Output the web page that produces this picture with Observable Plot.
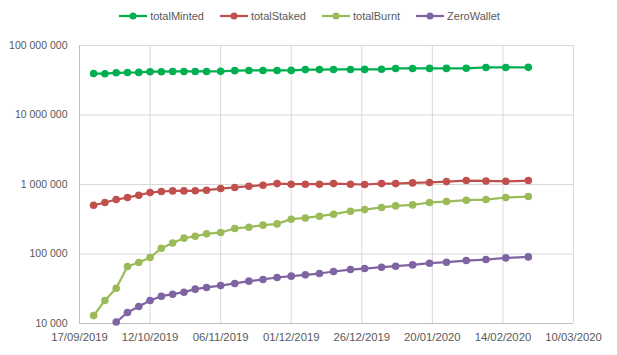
<!DOCTYPE html>
<html>
<head>
<meta charset="utf-8">
<script src="https://cdn.jsdelivr.net/npm/d3@7"></script>
<script src="https://cdn.jsdelivr.net/npm/@observablehq/plot@0.6"></script>
<style>
  body { margin: 0; background: #fff; font-family: "Liberation Sans", Arial, sans-serif; }
  #wrap { width: 617px; height: 355px; position: relative; }
  #legend { height: 30px; display: flex; justify-content: center; align-items: center; gap: 16px; font-size: 11px; color: #595959; padding-left: 2px; box-sizing: border-box; padding-top: 2px; }
  .item { display: flex; align-items: center; gap: 3px; }
  svg.sw { display: block; }
</style>
</head>
<body>
<div id="wrap">
  <div id="legend"></div>
  <div id="chart"></div>
</div>
<script>
const dates = ["2019-09-22","2019-09-26","2019-09-30","2019-10-04","2019-10-08","2019-10-12","2019-10-16","2019-10-20","2019-10-24","2019-10-28","2019-11-01","2019-11-06","2019-11-11","2019-11-16","2019-11-21","2019-11-26","2019-12-01","2019-12-06","2019-12-11","2019-12-16","2019-12-22","2019-12-27","2020-01-02","2020-01-07","2020-01-13","2020-01-19","2020-01-25","2020-02-01","2020-02-08","2020-02-15","2020-02-23"];

const totalMinted = [39.5e6,39.3e6,40.5e6,40.8e6,41e6,42e6,42e6,42.3e6,42.3e6,42.3e6,42.3e6,42.5e6,43.5e6,43.7e6,43.7e6,43.7e6,43.8e6,45e6,45e6,45.2e6,45.2e6,45.3e6,45.5e6,46.7e6,46.7e6,46.8e6,46.8e6,47e6,48.3e6,48.3e6,48.5e6];
const totalStaked = [503e3,551e3,608e3,650e3,702e3,767e3,793e3,809e3,809e3,812e3,828e3,875e3,906e3,946e3,977e3,1.03e6,1.01e6,1.01e6,1.01e6,1.03e6,1.01e6,1.0e6,1.03e6,1.03e6,1.055e6,1.07e6,1.10e6,1.14e6,1.125e6,1.11e6,1.14e6];
const totalBurnt = [13.0e3,21.4e3,32.2e3,66.1e3,75.5e3,89.1e3,121e3,144e3,169e3,180e3,195e3,204e3,233e3,243e3,260e3,271e3,317e3,330e3,350e3,374e3,413e3,436e3,467e3,492e3,509e3,551e3,569e3,594e3,608e3,650e3,671e3];
const zeroWallet = [null,null,10.5e3,14.4e3,17.6e3,21.4e3,24.7e3,26.4e3,28.2e3,31.2e3,33.0e3,35.2e3,37.7e3,40.7e3,43.0e3,45.9e3,48.0e3,50.1e3,52.4e3,56.0e3,59.8e3,61.8e3,64.6e3,66.7e3,69.7e3,73.7e3,76.2e3,80.6e3,83.3e3,87.9e3,90.8e3];

const seriesNames = ["totalMinted","totalStaked","totalBurnt","ZeroWallet"];
const seriesColors = ["#00b050","#c0504d","#9bbb59","#8064a2"];
const seriesValues = [totalMinted,totalStaked,totalBurnt,zeroWallet];

const xTicks = ["2019-09-17","2019-10-12","2019-11-06","2019-12-01","2019-12-26","2020-01-20","2020-02-14","2020-03-10"];
const yTicks = [1e4,1e5,1e6,1e7,1e8];

const data = [];
seriesNames.forEach((name, i) => {
  seriesValues[i].forEach((v, j) => {
    if (v != null) data.push({series: name, date: new Date(dates[j]), value: v});
  });
});

// legend
const legend = document.getElementById("legend");
seriesNames.forEach((name, i) => {
  const item = document.createElement("div");
  item.className = "item";
  item.innerHTML = `<svg class="sw" width="28" height="10"><line x1="0" y1="5" x2="28" y2="5" stroke="${seriesColors[i]}" stroke-width="2.25"/><circle cx="14" cy="5" r="3.5" fill="${seriesColors[i]}"/></svg><span>${name}</span>`;
  legend.appendChild(item);
});

const xTickDates = xTicks.map(d => new Date(d));
const fmtY = d => d3.format(",")(d).replace(/,/g, " ");

const chart = Plot.plot({
  width: 617,
  height: 325,
  marginTop: 15,
  marginBottom: 32,
  marginLeft: 79,
  marginRight: 44,
  style: {fontFamily: "Liberation Sans, Arial, sans-serif", fontSize: "10.5px", color: "#595959", background: "#fff"},
  x: {type: "utc", domain: [xTickDates[0], xTickDates[xTickDates.length - 1]], ticks: xTickDates, tickFormat: d3.utcFormat("%d/%m/%Y"), tickSize: 0, tickPadding: 9, label: null},
  y: {type: "log", domain: [1e4, 1e8], ticks: yTicks, tickFormat: fmtY, tickSize: 0, tickPadding: 12, label: null},
  color: {domain: seriesNames, range: seriesColors},
  marks: [
    Plot.ruleY(yTicks, {stroke: "#d9d9d9", strokeWidth: 1}),
    Plot.ruleX(xTickDates, {stroke: "#d9d9d9", strokeWidth: 1}),
    Plot.ruleX([xTickDates[0]], {stroke: "#bfbfbf", strokeWidth: 1}),
    Plot.ruleY([1e4], {stroke: "#bfbfbf", strokeWidth: 1}),
    Plot.axisX({ticks: xTickDates, tickFormat: d3.utcFormat("%d/%m/%Y"), tickSize: 0, tickPadding: 9, fontSize: 11.3}),
    Plot.line(data, {x: "date", y: "value", z: "series", stroke: "series", strokeWidth: 2.25, curve: "linear"}),
    Plot.dot(data, {x: "date", y: "value", fill: "series", r: 3.8, stroke: null})
  ]
});
document.getElementById("chart").appendChild(chart);
</script>
</body>
</html>
